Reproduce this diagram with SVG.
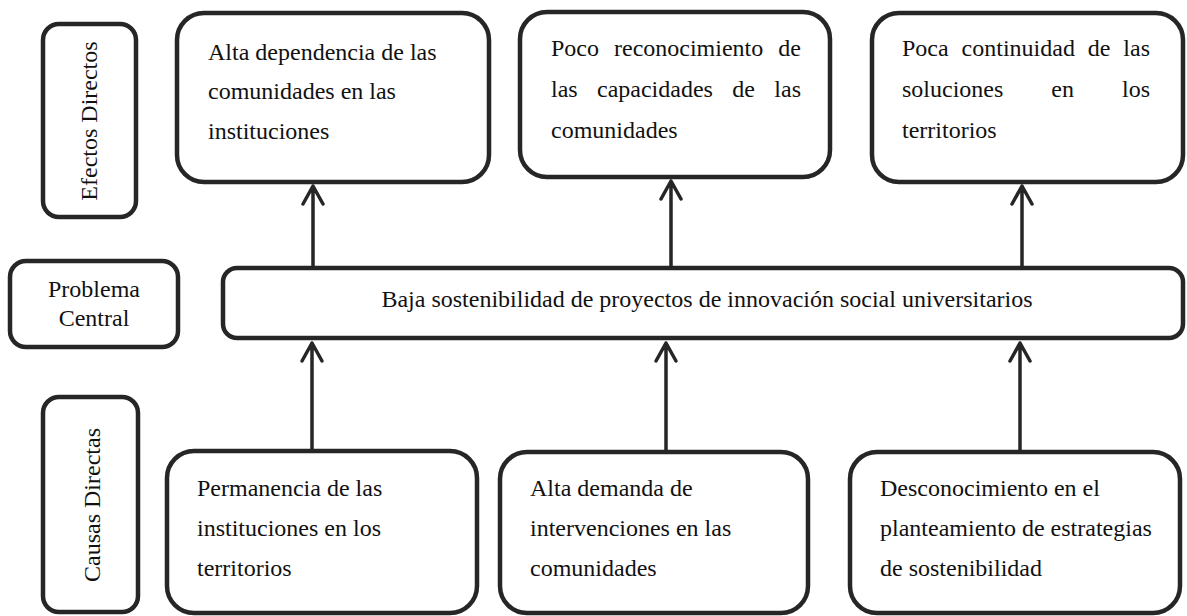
<svg xmlns="http://www.w3.org/2000/svg" width="1187" height="616" viewBox="0 0 1187 616">
<style>
.box{fill:#fff;stroke:#262626;stroke-width:4.5}
.t{font-family:'Liberation Serif','Times New Roman',serif;font-size:24px;fill:#111}
.c{stroke:#262626;stroke-width:3.5;fill:none;stroke-linecap:round;stroke-linejoin:round}
</style>
<rect width="1187" height="616" fill="#fff"/>
<g id="label-efectos">
<rect class="box" x="43" y="24" width="93" height="193" rx="16"/>
<text class="t" transform="translate(97,121) rotate(-90)" text-anchor="middle">Efectos Directos</text>
</g>
<g id="label-problema">
<rect class="box" x="10" y="261" width="168" height="86" rx="16"/>
<text class="t" x="94" y="297" text-anchor="middle">Problema</text>
<text class="t" x="94" y="326" text-anchor="middle">Central</text>
</g>
<g id="label-causas">
<rect class="box" x="43" y="397" width="95" height="215" rx="16"/>
<text class="t" transform="translate(100,505) rotate(-90)" text-anchor="middle">Causas Directas</text>
</g>
<g id="efecto1">
<rect class="box" x="177" y="13" width="312" height="169" rx="27"/>
<text class="t" x="208" y="60">Alta dependencia de las</text>
<text class="t" x="208" y="99">comunidades en las</text>
<text class="t" x="208" y="139">instituciones</text>
</g>
<g id="efecto2">
<rect class="box" x="520" y="12" width="310" height="165" rx="27"/>
<text class="t" y="56"><tspan x="551">Poco</tspan><tspan x="614">reconocimiento</tspan><tspan x="801" text-anchor="end">de</tspan></text>
<text class="t" y="97"><tspan x="551">las</tspan><tspan x="597">capacidades</tspan><tspan x="732.2">de</tspan><tspan x="801" text-anchor="end">las</tspan></text>
<text class="t" x="551" y="138">comunidades</text>
</g>
<g id="efecto3">
<rect class="box" x="872" y="13" width="311" height="169" rx="27"/>
<text class="t" y="56"><tspan x="902">Poca</tspan><tspan x="961.6">continuidad</tspan><tspan x="1087.8">de</tspan><tspan x="1150" text-anchor="end">las</tspan></text>
<text class="t" y="97"><tspan x="902">soluciones</tspan><tspan x="1051.3">en</tspan><tspan x="1150" text-anchor="end">los</tspan></text>
<text class="t" x="902" y="138">territorios</text>
</g>
<g id="problema">
<rect class="box" x="223" y="268" width="960" height="70" rx="14"/>
<text class="t" x="707" y="307" text-anchor="middle">Baja sostenibilidad de proyectos de innovación social universitarios</text>
</g>
<g id="causa1">
<rect class="box" x="167" y="451" width="310" height="162" rx="27"/>
<text class="t" x="197" y="496">Permanencia de las</text>
<text class="t" x="197" y="536">instituciones en los</text>
<text class="t" x="197" y="576">territorios</text>
</g>
<g id="causa2">
<rect class="box" x="500" y="452" width="308" height="161" rx="27"/>
<text class="t" x="530" y="496">Alta demanda de</text>
<text class="t" x="530" y="536">intervenciones en las</text>
<text class="t" x="530" y="576">comunidades</text>
</g>
<g id="causa3">
<rect class="box" x="850" y="452" width="330" height="161" rx="27"/>
<text class="t" x="880" y="496">Desconocimiento en el</text>
<text class="t" x="880" y="536">planteamiento de estrategias</text>
<text class="t" x="880" y="576">de sostenibilidad</text>
</g>
<g id="connectors">
<path class="c" d="M313 266V186M303 204L313 186L323 204"/>
<path class="c" d="M671 266V181M661 199L671 181L681 199"/>
<path class="c" d="M1022 266V186M1012 204L1022 186L1032 204"/>
<path class="c" d="M312 449V343M302 361L312 343L322 361"/>
<path class="c" d="M666 450V343M656 361L666 343L676 361"/>
<path class="c" d="M1020 450V343M1010 361L1020 343L1030 361"/>
</g>
</svg>
